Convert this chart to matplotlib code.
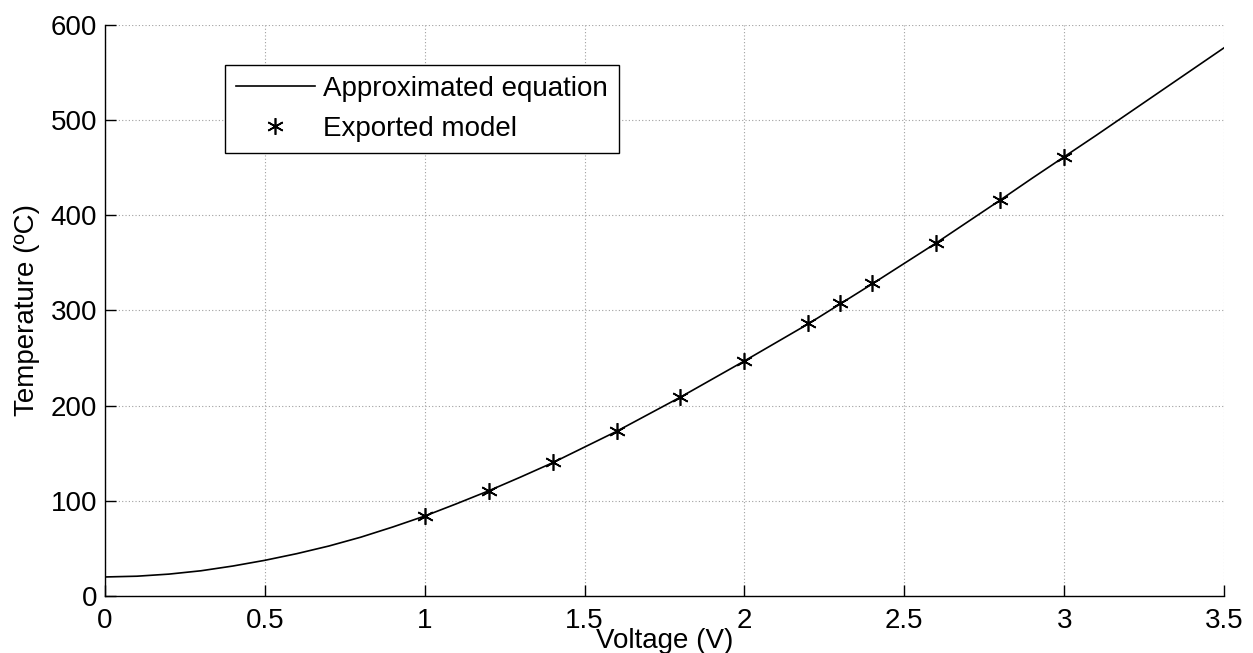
"""Temperature vs voltage: approximated equation against exported model points."""

import matplotlib

matplotlib.use("Agg")
import matplotlib.pyplot as plt

plt.rcParams["font.family"] = ["Liberation Sans", "DejaVu Sans"]

# approximated equation, every 0.1 V
curve_voltage = [
    0.0, 0.1, 0.2, 0.3, 0.4, 0.5, 0.6, 0.7, 0.8, 0.9,
    1.0, 1.1, 1.2, 1.3, 1.4, 1.5, 1.6, 1.7, 1.8, 1.9,
    2.0, 2.1, 2.2, 2.3, 2.4, 2.5, 2.6, 2.7, 2.8, 2.9,
    3.0, 3.1, 3.2, 3.3, 3.4, 3.5,
]
curve_temperature = [
    20.0, 20.8, 23.0, 26.5, 31.5, 37.5, 44.5, 52.5, 61.8, 72.5,
    84.0, 97.0, 110.5, 125.0, 140.0, 156.5, 173.0, 191.0, 209.0, 228.0,
    247.0, 266.5, 286.0, 307.0, 328.0, 349.5, 371.0, 393.5, 416.0, 439.0,
    461.5, 484.0, 507.0, 530.0, 553.0, 576.0,
]

# exported model samples
model_voltage = [1.0, 1.2, 1.4, 1.6, 1.8, 2.0, 2.2, 2.3, 2.4, 2.6, 2.8, 3.0]
model_temperature = [84.3, 110.6, 140.4, 173.3, 209.0, 246.8, 286.4, 307.5, 328.5, 371.0, 416.0, 461.5]

x_ticks = [0, 0.5, 1, 1.5, 2, 2.5, 3, 3.5]
x_tick_labels = ["0", "0.5", "1", "1.5", "2", "2.5", "3", "3.5"]
y_ticks = [0, 100, 200, 300, 400, 500, 600]

FONT_SIZE = 20

fig = plt.figure(figsize=(12.53, 6.53), dpi=100)
ax = fig.add_axes([105 / 1253, 57 / 653, 1119 / 1253, 571 / 653])

ax.plot(curve_voltage, curve_temperature, color="black", linewidth=1.2,
        label="Approximated equation")
ax.plot(model_voltage, model_temperature, linestyle="none", marker=(6, 2, 0),
        markersize=12, markeredgewidth=1.2, color="black", label="Exported model")

ax.set_xlim(0, 3.5)
ax.set_ylim(0, 600)
ax.set_xticks(x_ticks)
ax.set_xticklabels(x_tick_labels)
ax.set_yticks(y_ticks)
ax.tick_params(direction="in", length=8, width=1, labelsize=FONT_SIZE, colors="black")
ax.tick_params(axis="x", pad=9)
ax.tick_params(axis="y", pad=5.5)

for side in ("top", "right"):
    ax.spines[side].set_visible(False)
for side in ("left", "bottom"):
    ax.spines[side].set_linewidth(1.0)

ax.grid(True, linestyle=(0, (1, 2)), color="#a0a0a0", linewidth=0.8)
ax.set_axisbelow(True)

ax.set_xlabel("Voltage (V)", fontsize=FONT_SIZE, labelpad=-5)
ax.set_ylabel("Temperature (ºC)", fontsize=FONT_SIZE, labelpad=8)

legend = ax.legend(loc="upper left", bbox_to_anchor=(0.107, 0.93), borderaxespad=0,
                   fontsize=FONT_SIZE, frameon=True, fancybox=False, edgecolor="black",
                   handlelength=2.85, handletextpad=0.3, borderpad=0.4,
                   labelspacing=0.5, framealpha=1)
legend.get_frame().set_linewidth(1.0)

fig.savefig("out.png", dpi=100)
